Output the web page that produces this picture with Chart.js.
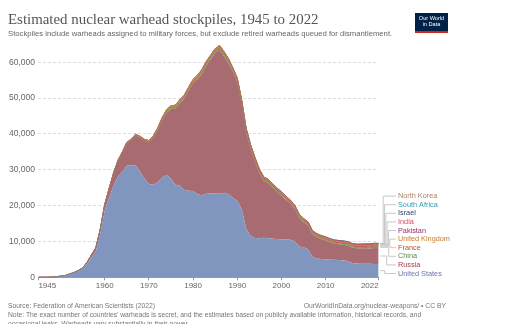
<!DOCTYPE html>
<html>
<head>
<meta charset="utf-8">
<script src="https://cdn.jsdelivr.net/npm/chart.js@4.4.0/dist/chart.umd.min.js"></script>
<style>
  html, body { margin: 0; padding: 0; background: #fff; }
  #wrap { position: relative; width: 524px; height: 324px; overflow: hidden; font-family: "Liberation Sans", Arial, sans-serif; }
  #chart { position: absolute; left: 0; top: 0; }
  .t { position: absolute; white-space: nowrap; }
  #logo { position: absolute; left: 415px; top: 13px; width: 33px; height: 16px; background: #002147; border-bottom: 2px solid #ce261e; color: #fff; font-size: 5.6px; line-height: 6.2px; text-align: center; padding-top: 2px; box-sizing: content-box; }
</style>
</head>
<body>
<div id="wrap">
  <canvas id="chart" width="524" height="324"></canvas>
  <div class="t" style="left:8px;top:10.5px;font:14.9px 'Liberation Serif',serif;color:#555;">Estimated nuclear warhead stockpiles, 1945 to 2022</div>
  <div class="t" style="left:8px;top:28.8px;font-size:7.7px;color:#666;">Stockpiles include warheads assigned to military forces, but exclude retired warheads queued for dismantlement.</div>
  <div id="logo">Our World<br>in Data</div>
  <div class="t" style="left:8px;top:302px;font-size:6.75px;color:#777;">Source: Federation of American Scientists (2022)</div>
  <div class="t" style="right:78px;top:302px;font-size:6.75px;color:#777;">OurWorldInData.org/nuclear-weapons/ • CC BY</div>
  <div class="t" style="left:8px;top:311.3px;font-size:6.75px;color:#777;line-height:8.6px;">Note: The exact number of countries' warheads is secret, and the estimates based on publicly available information, historical records, and<br>occasional leaks. Warheads vary substantially in their power.</div>
</div>
<script>
var years = [
  1945, 1946, 1947, 1948, 1949, 1950, 1951, 1952, 1953, 1954,
  1955, 1956, 1957, 1958, 1959, 1960, 1961, 1962, 1963, 1964,
  1965, 1966, 1967, 1968, 1969, 1970, 1971, 1972, 1973, 1974,
  1975, 1976, 1977, 1978, 1979, 1980, 1981, 1982, 1983, 1984,
  1985, 1986, 1987, 1988, 1989, 1990, 1991, 1992, 1993, 1994,
  1995, 1996, 1997, 1998, 1999, 2000, 2001, 2002, 2003, 2004,
  2005, 2006, 2007, 2008, 2009, 2010, 2011, 2012, 2013, 2014,
  2015, 2016, 2017, 2018, 2019, 2020, 2021, 2022
];

var unitedStates = [
  2, 9, 13, 50, 170, 299, 438, 841, 1169, 1703,
  2422, 3692, 5543, 7345, 12298, 18638, 22229, 25540, 28133, 29463,
  31139, 31175, 31255, 29561, 27552, 26008, 25830, 26516, 27835, 28537,
  27519, 25914, 25542, 24418, 24138, 24104, 23208, 22886, 23305, 23459,
  23368, 23317, 23575, 23205, 22217, 21392, 19008, 13708, 11511, 10979,
  10904, 11011, 10903, 10732, 10685, 10577, 10526, 10457, 10027, 8570,
  8360, 7853, 5709, 5273, 5113, 5066, 4897, 4881, 4804, 4717,
  4571, 4018, 3822, 3785, 3805, 3750, 3708, 3708
];

var russia = [
  0, 0, 0, 0, 1, 5, 25, 50, 120, 150,
  200, 426, 660, 869, 1060, 1605, 2471, 3322, 4238, 5221,
  6129, 7089, 8339, 9399, 10538, 11643, 13092, 14478, 15915, 17385,
  19443, 21205, 23044, 25393, 27935, 30062, 32049, 33952, 35804, 37431,
  39197, 40159, 38107, 36538, 35078, 32980, 29154, 26734, 24403, 21339,
  18179, 15942, 15442, 14368, 13188, 12188, 11152, 10114, 9076, 8038,
  7000, 6643, 6286, 5929, 5571, 5215, 4858, 4500, 4400, 4350,
  4300, 4300, 4300, 4330, 4330, 4310, 4495, 4477
];

var china = [
  0, 0, 0, 0, 0, 0, 0, 0, 0, 0,
  0, 0, 0, 0, 0, 0, 0, 0, 0, 1,
  5, 20, 25, 35, 50, 75, 100, 130, 150, 170,
  185, 190, 200, 220, 235, 280, 330, 360, 380, 414,
  426, 423, 415, 411, 233, 232, 234, 234, 234, 232,
  234, 234, 232, 232, 232, 232, 235, 235, 235, 235,
  235, 235, 235, 240, 240, 240, 240, 250, 250, 260,
  260, 270, 280, 290, 300, 350, 350, 350
];

var france = [
  0, 0, 0, 0, 0, 0, 0, 0, 0, 0,
  0, 0, 0, 0, 0, 0, 0, 0, 0, 4,
  32, 36, 36, 36, 36, 36, 45, 70, 116, 145,
  188, 212, 228, 235, 235, 250, 274, 274, 279, 280,
  360, 355, 420, 411, 412, 504, 538, 540, 525, 510,
  500, 450, 450, 450, 450, 470, 350, 350, 350, 350,
  350, 350, 350, 300, 300, 300, 300, 300, 300, 300,
  300, 300, 300, 300, 290, 290, 290, 290
];

var unitedKingdom = [
  0, 0, 0, 0, 0, 0, 0, 0, 1, 5,
  10, 15, 20, 22, 25, 30, 50, 205, 280, 310,
  310, 270, 270, 280, 308, 375, 420, 450, 475, 492,
  492, 492, 492, 492, 492, 492, 492, 492, 422, 422,
  422, 422, 422, 422, 422, 422, 422, 300, 300, 300,
  300, 300, 280, 280, 280, 280, 280, 280, 280, 280,
  280, 225, 225, 225, 225, 225, 225, 225, 225, 225,
  215, 215, 215, 215, 215, 225, 225, 225
];

var pakistan = [
  0, 0, 0, 0, 0, 0, 0, 0, 0, 0,
  0, 0, 0, 0, 0, 0, 0, 0, 0, 0,
  0, 0, 0, 0, 0, 0, 0, 0, 0, 0,
  0, 0, 0, 0, 0, 0, 0, 0, 0, 0,
  0, 0, 0, 0, 0, 0, 0, 0, 0, 0,
  0, 0, 0, 5, 10, 20, 30, 40, 45, 50,
  50, 60, 60, 70, 70, 70, 90, 100, 110, 110,
  120, 130, 140, 150, 150, 160, 165, 165
];

var india = [
  0, 0, 0, 0, 0, 0, 0, 0, 0, 0,
  0, 0, 0, 0, 0, 0, 0, 0, 0, 0,
  0, 0, 0, 0, 0, 0, 0, 0, 0, 0,
  0, 0, 0, 0, 0, 0, 0, 0, 0, 0,
  0, 0, 0, 0, 0, 0, 0, 0, 0, 0,
  0, 0, 0, 10, 15, 20, 25, 30, 35, 40,
  50, 60, 65, 70, 70, 80, 90, 100, 100, 110,
  110, 120, 120, 130, 130, 150, 156, 160
];

var israel = [
  0, 0, 0, 0, 0, 0, 0, 0, 0, 0,
  0, 0, 0, 0, 0, 0, 0, 0, 0, 0,
  0, 0, 2, 4, 6, 8, 11, 13, 15, 17,
  20, 22, 24, 26, 28, 30, 31, 33, 35, 37,
  40, 42, 44, 45, 47, 50, 52, 53, 55, 57,
  60, 62, 63, 65, 67, 70, 72, 74, 75, 77,
  80, 80, 80, 80, 80, 80, 80, 80, 80, 80,
  80, 80, 80, 80, 90, 90, 90, 90
];

var southAfrica = [
  0, 0, 0, 0, 0, 0, 0, 0, 0, 0,
  0, 0, 0, 0, 0, 0, 0, 0, 0, 0,
  0, 0, 0, 0, 0, 0, 0, 0, 0, 0,
  0, 0, 0, 0, 1, 1, 2, 3, 4, 4,
  5, 5, 6, 6, 6, 6, 0, 0, 0, 0,
  0, 0, 0, 0, 0, 0, 0, 0, 0, 0,
  0, 0, 0, 0, 0, 0, 0, 0, 0, 0,
  0, 0, 0, 0, 0, 0, 0, 0
];

var northKorea = [
  0, 0, 0, 0, 0, 0, 0, 0, 0, 0,
  0, 0, 0, 0, 0, 0, 0, 0, 0, 0,
  0, 0, 0, 0, 0, 0, 0, 0, 0, 0,
  0, 0, 0, 0, 0, 0, 0, 0, 0, 0,
  0, 0, 0, 0, 0, 0, 0, 0, 0, 0,
  0, 0, 0, 0, 0, 0, 0, 0, 0, 0,
  0, 1, 2, 2, 2, 4, 6, 8, 10, 12,
  12, 15, 20, 25, 25, 30, 20, 20
];

// bottom of the stack first
var countries = ['United States', 'Russia', 'China', 'France', 'United Kingdom', 'Pakistan', 'India', 'Israel', 'South Africa', 'North Korea'];
var seriesValues = [unitedStates, russia, china, france, unitedKingdom, pakistan, india, israel, southAfrica, northKorea];
var fillColors = ['#8096be', '#a96b72', '#6f9a5c', '#c85a3c', '#cf8a42', '#a5437f', '#df5a6c', '#44558a', '#3aa6b8', '#b9906e'];
var textColors = ['#6a72ad', '#a23a45', '#5b8a48', '#c0502c', '#c77b30', '#9b2a72', '#dd4761', '#2d3f6c', '#2e9db0', '#b08464'];

var yTicks = [0, 10000, 20000, 30000, 40000, 50000, 60000];
var xTicks = [1945, 1960, 1970, 1980, 1990, 2000, 2010, 2022];

var endLabels = {
  id: 'endLabels',
  afterDraw: function (chart) {
    var ctx = chart.ctx;
    var area = chart.chartArea;
    var n = chart.data.datasets.length;
    var last = years.length - 1;
    var prev = area.bottom;
    var centers = [];
    for (var i = 0; i < n; i++) {
      var pt = chart.getDatasetMeta(i).data[last];
      centers.push((prev + pt.y) / 2);
      prev = pt.y;
    }
    var labelX = 398;
    var above = 0, below = 0;
    var elbows = [];
    for (var j = n - 1; j >= 0; j--) {
      var ly = area.bottom - 3.8 - j * 8.6;
      if (ly < centers[j]) { elbows[j] = area.right + 4.5 + above * 1.3; above++; }
    }
    for (var k = 0; k < n; k++) {
      var ly2 = area.bottom - 3.8 - k * 8.6;
      if (ly2 >= centers[k]) { elbows[k] = area.right + 6 + below * 2; below++; }
    }
    ctx.save();
    ctx.lineWidth = 1;
    ctx.strokeStyle = '#c8c8c8';
    ctx.font = '7.3px "Liberation Sans", Arial, sans-serif';
    ctx.textBaseline = 'middle';
    for (var m = 0; m < n; m++) {
      var y = area.bottom - 3.8 - m * 8.6;
      ctx.beginPath();
      ctx.moveTo(area.right + 1.5, centers[m]);
      ctx.lineTo(elbows[m], centers[m]);
      ctx.lineTo(elbows[m], y);
      ctx.lineTo(labelX - 2, y);
      ctx.stroke();
      ctx.fillStyle = textColors[m];
      ctx.fillText(countries[m], labelX, y);
    }
    ctx.restore();
  }
};

var datasets = countries.map(function (name, i) {
  return {
    label: name,
    data: seriesValues[i].map(function (v, idx) { return { x: years[idx], y: v }; }),
    backgroundColor: fillColors[i],
    borderColor: fillColors[i],
    borderWidth: i < 2 ? 0 : 0.6,
    pointRadius: 0,
    tension: 0,
    fill: i === 0 ? 'origin' : '-1'
  };
});

new Chart(document.getElementById('chart').getContext('2d'), {
  type: 'line',
  data: { datasets: datasets },
  plugins: [endLabels],
  options: {
    responsive: false,
    animation: false,
    devicePixelRatio: 1,
    events: [],
    layout: { padding: { left: 0, top: 44.4, right: 145.3, bottom: 30.7 } },
    plugins: {
      legend: { display: false },
      tooltip: { enabled: false }
    },
    scales: {
      x: {
        type: 'linear',
        min: 1945,
        max: 2022,
        afterBuildTicks: function (s) { s.ticks = xTicks.map(function (v) { return { value: v }; }); },
        afterFit: function (s) { s.height = 16; },
        grid: { drawOnChartArea: false, drawTicks: true, tickLength: 3, color: '#999' },
        border: { display: true, color: '#999' },
        ticks: {
          color: '#666',
          font: { family: 'Liberation Sans', size: 8 },
          padding: 1,
          align: 'inner',
          maxRotation: 0,
          autoSkip: false,
          callback: function (v) { return String(v); }
        }
      },
      y: {
        stacked: true,
        min: 0,
        max: 65000,
        afterBuildTicks: function (s) { s.ticks = yTicks.map(function (v) { return { value: v }; }); },
        afterFit: function (s) { s.width = 38.4; },
        grid: {
          drawTicks: false,
          lineWidth: 1,
          color: function (c) { return c.tick && c.tick.value === 0 ? 'rgba(0,0,0,0)' : '#dddddd'; }
        },
        border: { display: false, dash: [3, 2] },
        ticks: {
          color: '#666',
          font: { family: 'Liberation Sans', size: 8.5 },
          padding: 3.4,
          callback: function (v) { return v.toLocaleString('en-US'); }
        }
      }
    }
  }
});
</script>
</body>
</html>
